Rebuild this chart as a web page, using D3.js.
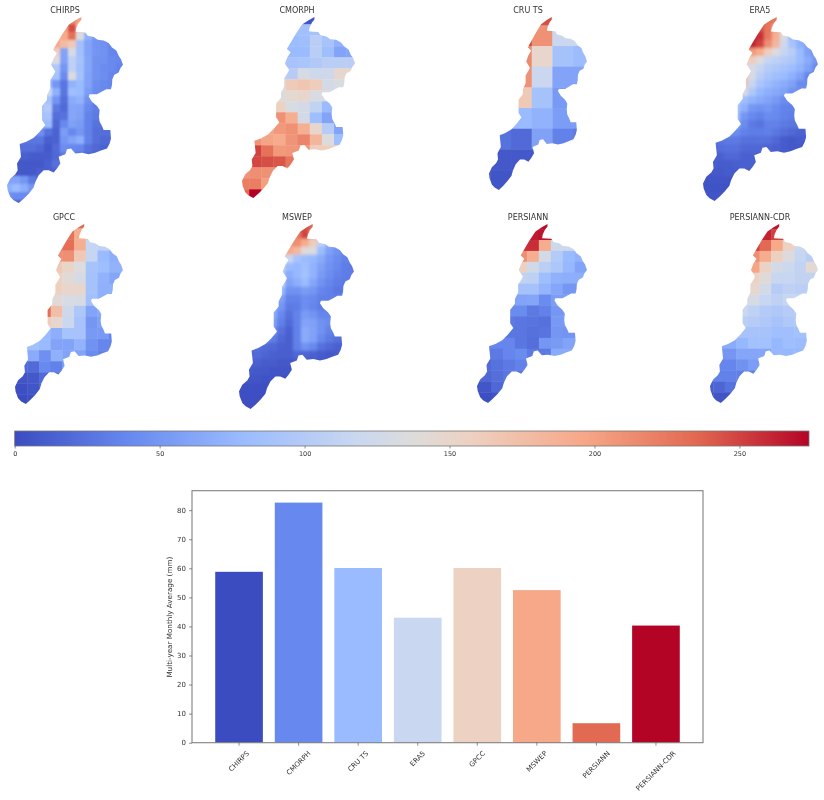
<!DOCTYPE html>
<html>
<head>
<meta charset="utf-8">
<script src="https://cdnjs.cloudflare.com/ajax/libs/d3/7.8.5/d3.min.js"></script>
<style>
html,body{margin:0;padding:0;background:#fff}
svg{display:block;filter:blur(0.35px)}
text{font-family:"DejaVu Sans",sans-serif;fill:#333}
</style>
</head>
<body>
<svg id="chart" width="824" height="800"></svg>
<script>
const _ = null;

/* ---------- bar chart data ---------- */
const products = ["CHIRPS","CMORPH","CRU TS","ERA5","GPCC","MSWEP","PERSIANN","PERSIANN-CDR"];
const monthlyAverage = [58.8,82.6,60.1,43.0,60.1,52.5,6.7,40.3];
const barTicks = [0,10,20,30,40,50,60,70,80];
const colorbarTicks = [0,50,100,150,200,250];
const colorMax = 274;

/* ---------- coolwarm stops ---------- */
const coolwarmAt = [0,1/7,2/7,3/7,0.5,4/7,5/7,6/7,1];
const coolwarmHex = ["#3b4cc0","#6788ee","#9abbff","#c9d7f0","#dddcdc","#edd1c2","#f7a889","#e26952","#b40426"];

/* ---------- basin boundary, [x,y] in a shared basin frame ---------- */
const basinOutline = [[243,52],[243,60],[235,70],[228,85],[226,96],[240,97],[255,98],[262,108],[280,112],[292,120],[310,122],[325,130],[335,143],[348,152],[355,168],[362,178],[368,195],[360,205],[355,218],[342,225],[336,238],[335,255],[332,268],[318,268],[305,275],[290,283],[268,283],[265,290],[275,305],[290,318],[298,330],[296,350],[298,365],[305,378],[310,390],[330,390],[332,415],[328,430],[320,445],[300,452],[285,458],[265,462],[245,458],[225,460],[212,445],[200,447],[195,462],[175,470],[180,490],[170,505],[160,517],[145,510],[130,510],[115,525],[105,545],[100,562],[85,580],[70,595],[55,608],[40,600],[30,590],[22,570],[20,555],[30,535],[45,522],[52,510],[50,490],[62,470],[60,450],[58,432],[78,425],[100,413],[118,395],[135,375],[125,360],[125,330],[125,318],[140,300],[140,285],[150,265],[150,240],[160,225],[165,215],[152,195],[160,175],[170,160],[158,150],[170,130],[185,105],[195,90],[205,75],[225,62]];

/* ---------- gridded multi-year precipitation per product (mm) ---------- */
const gridCHIRPS = [
[_,_,_,_,_,_,_,_,215,200],
[_,_,_,_,_,_,_,200,245,165],
[_,_,_,_,_,_,180,195,230,135,70,50],
[_,_,_,_,_,_,195,178,165,85,60,48,46,38],
[_,_,_,_,_,160,160,60,130,85,60,50,47,38,38],
[_,_,_,_,_,135,135,58,108,88,62,47,46,40,38],
[_,_,_,_,_,95,95,50,108,85,62,47,43,40,36],
[_,_,_,_,88,88,88,42,135,88,60,47,44,38,38],
[_,_,_,_,80,80,50,28,72,78,60,44,40,38],
[_,_,_,_,120,120,70,28,84,78,55,42,40],
[_,_,_,_,88,88,48,22,66,72,47,40,38],
[_,_,_,_,90,100,30,20,62,60,40,32,32],
[_,_,_,_,90,90,22,25,62,58,36,30,30],
[_,_,_,_,78,78,18,40,58,54,36,25,24],
[_,_,_,45,45,25,15,55,40,50,35,22,22,22],
[_,_,28,28,28,12,15,50,60,68,36,22,18,18],
[_,22,22,22,18,8,20,44,40,38,25,18,15,15],
[_,14,14,10,10,10,18,30,30,25,20,15],
[_,8,8,8,8,14,24,24],
[8,8,8,8,12,14,14],
[60,60,50,30,20],
[70,78,68,50,40],
[47,42,40,38],
[12,12,12]
];
const gridCMORPH = [
[_,_,_,_,_,5,5],
[_,_,_,_,85,85,88,88],
[_,_,_,_,80,82,105,90,72],
[_,_,_,78,78,78,105,82,60,62],
[_,_,_,105,90,92,98,105,105,105],
[_,_,_,105,102,130,122,123,148,148],
[_,_,_,137,163,168,160,128,132,132],
[_,_,135,135,145,150,132,135,135],
[_,_,157,157,132,127,112,78,78],
[_,_,210,210,190,128,82,60,60],
[_,197,197,205,210,188,150,102,60],
[_,208,198,193,208,218,182,135,82],
[_,250,230,205,207,207,160,160],
[225,248,245,242,228,228],
[208,212,210,210],
[222,222,202],
[235,274,235]
];
const gridCRU = [
[_,_,_,245,245],
[_,_,250,210,118,118],
[_,_,215,150,88,80],
[_,_,210,118,60,60],
[_,165,165,88,53,53],
[_,70,78,72,55,55],
[25,25,20,58,35,30],
[5,8,8,8,8],
[2,5,5]
];
const gridERA5 = [
[_,_,_,_,_,_,_,_,232,225],
[_,_,_,_,_,_,_,245,228,195],
[_,_,_,_,_,_,268,258,225,190,135,78],
[_,_,_,_,_,_,262,250,212,182,120,90,70,58],
[_,_,_,_,_,205,205,192,160,135,115,103,78,58,42],
[_,_,_,_,_,158,160,138,115,108,102,95,78,65,50],
[_,_,_,_,_,155,130,115,102,96,90,82,72,58,42],
[_,_,_,_,175,175,130,105,92,84,78,70,58,38,38],
[_,_,_,_,172,172,115,92,80,72,66,58,42,42],
[_,_,_,_,130,130,96,76,68,64,58,47,47],
[_,_,_,108,108,82,72,65,60,52,42,42],
[_,_,_,92,92,70,50,47,50,42,36,35],
[_,_,_,85,85,50,40,35,42,40,35,32],
[_,_,_,65,65,42,30,26,35,35,30,28,28],
[_,_,50,50,44,35,32,32,34,28,22,18,15,14,14],
[_,28,28,30,30,25,24,25,24,18,10,8,10,14,14],
[18,18,22,24,24,18,18,18,16,14,10,8,8],
[14,14,14,18,18,14,14,12,12],
[12,12,10,10,12,14,14],
[10,8,8,10,10,10],
[6,5,6,6,6],
[4,4,4,4],
[8,6,6],
[6,6]
];
const gridGPCC = [
[_,_,_,_,_,235,235],
[_,_,_,_,230,192,192],
[_,_,_,232,232,190,115,110],
[_,_,_,212,212,165,115,78,68],
[_,_,_,165,152,137,90,82,72],
[_,_,_,158,142,130,88,72,62],
[_,_,158,158,150,150,88,70,70],
[_,_,155,140,132,130,85,70],
[_,_,232,175,122,95,60,65,65],
[_,_,160,148,118,90,50,58,58],
[_,_,78,68,90,90,52,52,35],
[_,85,78,60,60,72,47,38,36],
[66,66,45,70,60,60,42,35,35],
[_,20,40,35,56,56],
[5,8,20,20],
[2,5,17],
[0,2,2]
];
const gridMSWEP = [
[_,_,_,_,_,_,_,_,245,235],
[_,_,_,_,_,_,_,225,250,195],
[_,_,_,_,_,_,208,212,192,162,108,72],
[_,_,_,_,_,_,195,180,140,135,80,58,47,38],
[_,_,_,_,_,118,118,90,80,76,66,50,42,36,36],
[_,_,_,_,_,125,80,76,84,72,58,47,40,32,30],
[_,_,_,_,_,100,66,76,86,72,54,44,36,32,32],
[_,_,_,_,_,118,58,68,78,62,47,38,32,30],
[_,_,_,_,78,78,47,47,54,50,38,34,28],
[_,_,_,_,76,58,36,36,44,40,34,34],
[_,_,_,72,72,50,30,32,44,38,32,30,30],
[_,_,_,84,66,40,24,36,54,48,38,38,38],
[_,_,_,78,58,34,20,36,60,58,47,42,42],
[_,_,66,66,47,25,14,35,66,60,47,36,30,30],
[_,_,47,47,32,18,12,35,66,58,40,30,24,16,16],
[_,24,24,20,18,14,12,34,47,40,24,18,14,14,14],
[18,18,20,16,14,12,12,18,16,14,10,8,10,10],
[14,14,14,10,10,8,8,8,8],
[10,10,8,8,6,6,6],
[5,6,6,4,4],
[3,3,2,2],
[2,2,2],
[2,2]
];
const gridPERSIANN = [
[_,_,_,_,270,270],
[_,_,_,265,265,268],
[_,_,_,255,258,192,122,122],
[_,_,_,212,190,128,100,78,72],
[_,_,_,158,125,106,95,76,60],
[_,_,_,112,108,82,70,68,68],
[_,_,88,88,88,74,62,50,50],
[_,_,60,60,62,42,55,55],
[_,42,42,42,30,35,50,55],
[_,30,30,28,26,24,52,55],
[_,28,28,28,24,26,50,48,48],
[38,38,38,28,22,50,54,60,60],
[30,30,38,42,30,30,66,66],
[20,25,30,35,35],
[18,22,28,28],
[7,18,18],
[2,4,4]
];
const gridCDR = [
[_,_,_,_,_,268,268],
[_,_,_,_,_,262,250,250],
[_,_,_,_,250,235,195,155,118],
[_,_,_,_,212,192,158,135,115,105],
[_,_,_,_,198,155,128,120,112,143],
[_,_,_,_,155,140,116,116,112,112],
[_,_,_,148,148,128,102,108,106,106],
[_,_,_,132,130,116,108,116,116],
[_,_,118,118,110,100,96,102,102],
[_,_,106,106,102,96,90,96,96],
[_,90,90,90,90,90,84,84,86],
[66,66,66,76,86,86,76,82,80],
[50,50,50,62,62,62,76,76,76],
[38,38,38,47,55,55],
[35,35,35,34],
[12,17,25,25],
[3,6,6]
];

/* ---------- panel layout (separate from the values) ---------- */
const panelGrids = [gridCHIRPS,gridCMORPH,gridCRU,gridERA5,gridGPCC,gridMSWEP,gridPERSIANN,gridCDR];
const panelTitleX = [65,297,528,760,64,297,528,760];
const panelTitleY = [13,13,13,13,220,220,220,220];
const panelBoxes = [[7,17,116,186],[242,17,113,181],[489,17,98,173],[703,17,115,184],[15,224,108,180],[239,224,115,185],[477,224,110,179],[710,224,108,179]];
const panelCells = [[4,16,8,8],[237,13.3,12.13,11],[469.7,4.7,20.67,20.67],[700,16,8,8],[15.7,217.3,11.67,11.07],[237,222.7,8,8],[479,218.3,11.97,10.87],[701.7,218.3,11.57,10.87]];
const panelBlur = [1.3,0.25,0.25,1.5,0.25,1.4,0.25,0.25];

/* ---------- shared colour scale ---------- */
const colorNorm = d3.scaleLinear().domain(coolwarmAt).range(coolwarmHex).interpolate(d3.interpolateRgb);
const color = v => colorNorm(v / colorMax);

/* cells are clipped to the basin; the rim cells of a row borrow the row's nearest read value */
function cellsWithRim(grid) {
  const nCols = d3.max(grid, r => r.length);
  const out = [];
  for (let r = -2; r <= grid.length + 1; r++) {
    const row = grid[Math.max(0, Math.min(grid.length - 1, r))];
    const filled = row.map((v, c) => v === null ? null : c).filter(c => c !== null);
    const first = filled[0], last = filled[filled.length - 1];
    for (let c = -2; c <= nCols + 1; c++) {
      const v = c < first ? row[first] : c > last ? row[last] : row[c];
      out.push({r, c, v});
    }
  }
  return out;
}

const svg = d3.select("#chart");
const defs = svg.append("defs");
const basinX = d3.extent(basinOutline, d => d[0]);
const basinY = d3.extent(basinOutline, d => d[1]);

products.forEach((name, i) => {
  const [bx, by, bw, bh] = panelBoxes[i];
  const [cx, cy, cw, ch] = panelCells[i];
  const grid = panelGrids[i];
  const nCols = d3.max(grid, r => r.length);
  const outX = d3.scaleLinear().domain(basinX).range([bx, bx + bw]);
  const outY = d3.scaleLinear().domain(basinY).range([by, by + bh]);
  const colX = d3.scaleLinear().domain([0, nCols]).range([cx, cx + nCols * cw]);
  const rowY = d3.scaleLinear().domain([0, grid.length]).range([cy, cy + grid.length * ch]);

  defs.append("clipPath").attr("id", "basin" + i).append("path")
    .attr("d", d3.line().x(d => outX(d[0])).y(d => outY(d[1])).curve(d3.curveLinearClosed)(basinOutline));
  defs.append("filter").attr("id", "soft" + i)
    .attr("x", "-10%").attr("y", "-10%").attr("width", "120%").attr("height", "120%")
    .append("feGaussianBlur").attr("stdDeviation", panelBlur[i]);

  const clip = svg.append("g").attr("class", "map").attr("clip-path", `url(#basin${i})`);
  clip.append("g").attr("filter", `url(#soft${i})`)
    .selectAll("rect").data(cellsWithRim(grid)).join("rect")
    .attr("x", d => colX(d.c)).attr("y", d => rowY(d.r))
    .attr("width", cw + 0.4).attr("height", ch + 0.4)
    .attr("fill", d => color(d.v));

  svg.append("text").attr("x", panelTitleX[i]).attr("y", panelTitleY[i])
    .attr("text-anchor", "middle").attr("font-size", 8).text(name);
});

/* ---------- colour bar ---------- */
const cbX = d3.scaleLinear().domain([0, colorMax]).range([14.7, 809]);
const grad = defs.append("linearGradient").attr("id", "cbGrad");
grad.selectAll("stop").data(coolwarmAt).join("stop")
  .attr("offset", d => d).attr("stop-color", (d, i) => coolwarmHex[i]);
svg.append("rect").attr("x", 14.7).attr("y", 431).attr("width", 794.3).attr("height", 15)
  .attr("fill", "url(#cbGrad)").attr("stroke", "#777").attr("stroke-width", 0.8);
const cbAxis = svg.append("g").attr("transform", "translate(0,446)")
  .call(d3.axisBottom(cbX).tickValues(colorbarTicks).tickSize(2.5).tickPadding(3));
cbAxis.select(".domain").remove();
cbAxis.selectAll("line").attr("stroke", "#444").attr("stroke-width", 0.6);
cbAxis.selectAll("text").attr("font-size", 6.5).attr("font-family", "DejaVu Sans");

/* ---------- bar chart ---------- */
const barLeft = 192, barRight = 703, barTop = 490.7, barBottom = 742.7;
const x = d3.scaleBand().domain(products).range([barLeft, barRight]).paddingInner(0.2).paddingOuter(0.39);
const y = d3.scaleLinear().domain([0, 86.7]).range([barBottom, barTop]);
const barColor = d3.scaleOrdinal().domain(products).range(products.map((d, i) => colorNorm(i / 7)));

svg.append("g").selectAll("rect").data(products).join("rect")
  .attr("x", d => x(d)).attr("width", x.bandwidth())
  .attr("y", (d, i) => y(monthlyAverage[i]))
  .attr("height", (d, i) => barBottom - y(monthlyAverage[i]))
  .attr("fill", d => barColor(d));

svg.append("rect").attr("x", barLeft).attr("y", barTop)
  .attr("width", barRight - barLeft).attr("height", barBottom - barTop)
  .attr("fill", "none").attr("stroke", "#808080").attr("stroke-width", 1.1);

const yAxis = svg.append("g").attr("transform", `translate(${barLeft},0)`)
  .call(d3.axisLeft(y).tickValues(barTicks).tickSize(3).tickPadding(3));
yAxis.select(".domain").remove();
yAxis.selectAll("line").attr("stroke", "#444").attr("stroke-width", 0.6);
yAxis.selectAll("text").attr("font-size", 7).attr("font-family", "DejaVu Sans");

const xAxis = svg.append("g").attr("transform", `translate(0,${barBottom})`)
  .call(d3.axisBottom(x).tickSize(3).tickPadding(3));
xAxis.select(".domain").remove();
xAxis.selectAll("line").attr("stroke", "#444").attr("stroke-width", 0.6);
xAxis.selectAll("text")
  .attr("font-size", 7).attr("font-family", "DejaVu Sans")
  .attr("text-anchor", "middle").attr("dy", "0.32em")
  .attr("y", 0)
  .each(function () {
    const len = this.getComputedTextLength();
    const cy = 7 + len * 0.354 + 2.5;
    d3.select(this).attr("transform", `translate(0,${cy}) rotate(-45)`);
  });

svg.append("text")
  .attr("transform", `translate(171.5,${(barTop + barBottom) / 2 + 0.5}) rotate(-90)`)
  .attr("text-anchor", "middle").attr("font-size", 7.2)
  .text("Multi-year Monthly Average (mm)");
</script>
</body>
</html>
